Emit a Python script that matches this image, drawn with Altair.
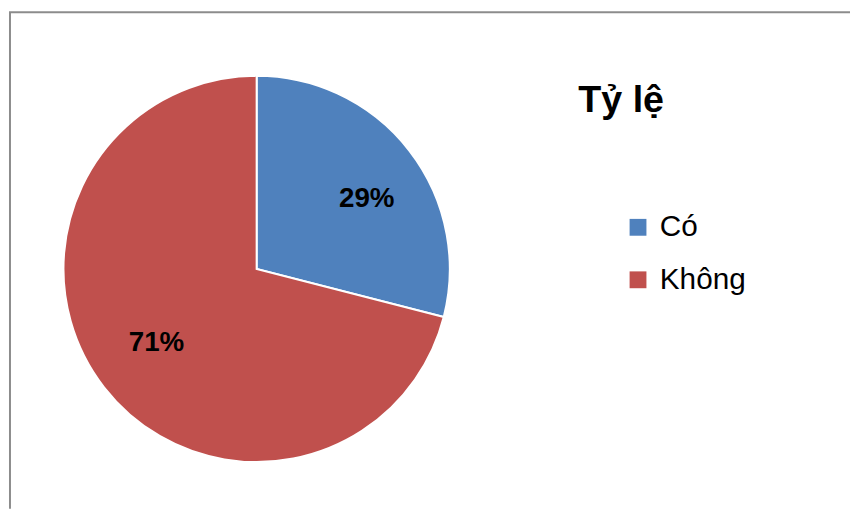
import altair as alt
import pandas as pd

categories = ["Có", "Không"]
values = [29, 71]
labels = ["29%", "71%"]
colors = ["#4F81BD", "#C0504D"]
title_text = ["Tỷ lệ"]

df = pd.DataFrame({"cat": categories, "val": values, "lab": labels, "order": [0, 1]})

FONT = "Liberation Sans"
CX, CY, R = 250, 261, 195
TOTAL = sum(values)

pie = alt.Chart(df).mark_arc(outerRadius=R, stroke="white", strokeWidth=2).encode(
    theta=alt.Theta("val:Q", stack=True),
    order=alt.Order("order:Q"),
    x=alt.value(CX),
    y=alt.value(CY),
    color=alt.Color(
        "cat:N",
        scale=alt.Scale(domain=categories, range=colors),
        sort=categories,
        legend=alt.Legend(
            title=None,
            orient="none",
            legendX=620,
            legendY=204,
            symbolType="square",
            symbolSize=289,
            symbolStrokeWidth=0,
            labelFontSize=30,
            labelFont=FONT,
            labelColor="#000000",
            labelOffset=7,
            rowPadding=23,
            padding=0,
        ),
    ),
)

lab_base = (
    alt.Chart(df)
    .transform_window(cum="sum(val)", sort=[alt.SortField("order")])
    .transform_calculate(mid="datum.cum - datum.val / 2")
)


def label_layer(cat, dx, dy):
    return (
        lab_base.transform_filter(alt.datum.cat == cat)
        .mark_text(radius=128, font=FONT, fontSize=28, fontWeight="bold",
                   color="#000000", dx=dx, dy=dy)
        .encode(
            theta=alt.Theta("mid:Q", scale=alt.Scale(domain=[0, TOTAL])),
            x=alt.value(CX),
            y=alt.value(CY),
            text="lab:N",
        )
    )


text_blue = label_layer(categories[0], 10, 8)
text_red = label_layer(categories[1], 0, -4)

tdf = pd.DataFrame({"t": title_text})
title = alt.Chart(tdf).mark_text(
    font=FONT, fontSize=38, fontWeight="bold", color="#000000", baseline="alphabetic", align="center"
).encode(x=alt.value(618), y=alt.value(103), text="t:N")

bdf = pd.DataFrame({"b": [0]})
top_border = alt.Chart(bdf).mark_rule(color="#8c8c8c", strokeWidth=2).encode(
    x=alt.value(0), x2=alt.value(850), y=alt.value(2)
)
left_border = alt.Chart(bdf).mark_rule(color="#8c8c8c", strokeWidth=2).encode(
    x=alt.value(1), y=alt.value(2), y2=alt.value(503)
)

chart = alt.layer(pie, text_blue, text_red, title, top_border, left_border).properties(
    width=850,
    height=503,
    padding=0,
    autosize=alt.AutoSizeParams(type="fit", contains="padding"),
    background="white",
).resolve_scale(theta="independent").configure_view(stroke=None)

chart.save("out.html", embed_options={"renderer": "svg", "actions": False})
